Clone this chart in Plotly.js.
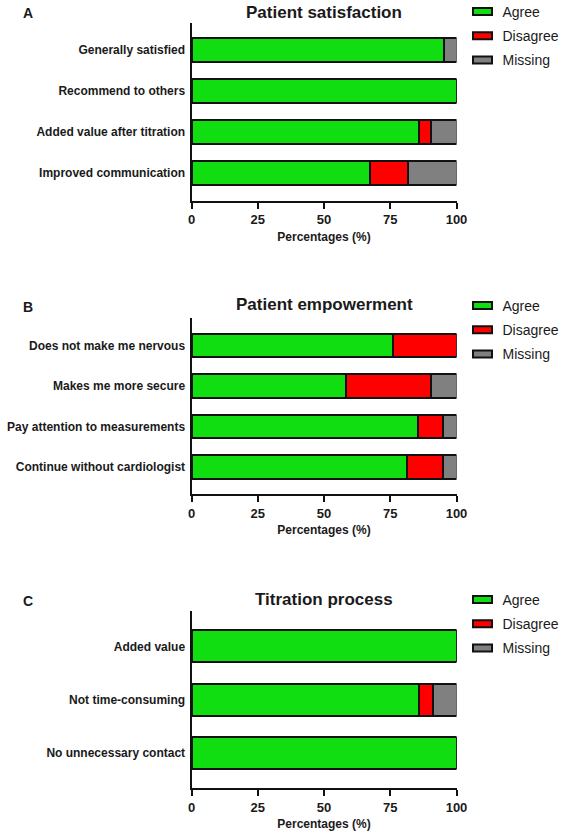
<!DOCTYPE html>
<html>
<head>
<meta charset="utf-8">
<script src="https://cdn.plot.ly/plotly-3.0.1.min.js"></script>
<style>html,body{margin:0;padding:0;background:#fff;}#chart{width:566px;height:837px;}</style>
</head>
<body>
<div id="chart"></div>
<script>
// ---------- data ----------
const seriesNames = ["Agree", "Disagree", "Missing"];

const catsA = ["Generally satisfied", "Recommend to others", "Added value after titration", "Improved communication"];
const agreeA    = [95.2, 100, 85.7, 67.5];
const disagreeA = [0, 0, 4.8, 14.3];
const missingA  = [4.8, 0, 9.5, 18.2];

const catsB = ["Does not make me nervous", "Makes me more secure", "Pay attention to measurements", "Continue without cardiologist"];
const agreeB    = [76.2, 58.3, 85.6, 81.3];
const disagreeB = [23.8, 32.2, 9.2, 13.5];
const missingB  = [0, 9.5, 5.2, 5.2];

const catsC = ["Added value", "Not time-consuming", "No unnecessary contact"];
const agreeC    = [100, 86.0, 100];
const disagreeC = [0, 5.1, 0];
const missingC  = [0, 8.9, 0];

const panelTitles = ["Patient satisfaction", "Patient empowerment", "Titration process"];
const panelLetters = ["A", "B", "C"];
const xTicks = [0, 25, 50, 75, 100];
const xTitle = "Percentages (%)";

// ---------- styling ----------
const colors = ["#10de10", "#ff0000", "#808080"];
const FONT = "Liberation Sans, Arial, sans-serif";
const TXT = "#1a1a1a";
const H = 837;
const py = px => (H - px) / H;

const panels = [
  {cats: catsA, vals: [agreeA, disagreeA, missingA], ax: "", leg: "legend", width: 0.58},
  {cats: catsB, vals: [agreeB, disagreeB, missingB], ax: "2", leg: "legend2", width: 0.58},
  {cats: catsC, vals: [agreeC, disagreeC, missingC], ax: "3", leg: "legend3", width: 0.6}
];

const traces = [];
panels.forEach((p, pi) => {
  seriesNames.forEach((s, si) => {
    traces.push({
      type: "bar",
      orientation: "h",
      name: s,
      x: p.vals[si],
      y: p.cats,
      xaxis: "x" + p.ax,
      yaxis: "y" + p.ax,
      legend: p.leg,
      legendgroup: "p" + pi + "s" + si,
      width: p.width,
      marker: {color: colors[si], line: {color: "#111", width: 2}},
      hoverinfo: "x+y+name"
    });
  });
});

const xDom = [191.5 / 566, 456.5 / 566];
// pixel tops/bottoms of the plot areas
const areas = [
  {top: 22.7, bottom: 200.7, range: [3.676, -0.666], titleY: 12, letterY: 12.5, legY: -4},
  {top: 318, bottom: 494, range: [3.667, -0.679], titleY: 305, letterY: 307, legY: 290},
  {top: 611, bottom: 788, range: [2.66, -0.666], titleY: 599, letterY: 600.5, legY: 584}
];

const layout = {
  width: 566, height: 837,
  margin: {l: 0, r: 0, t: 0, b: 0, autoexpand: false},
  paper_bgcolor: "#fff", plot_bgcolor: "#fff",
  barmode: "stack",
  font: {family: FONT, color: TXT},
  showlegend: true,
  annotations: [],
  bargap: 0
};

areas.forEach((a, i) => {
  const ax = i === 0 ? "" : String(i + 1);
  layout["xaxis" + ax] = {
    domain: xDom,
    anchor: "y" + ax,
    range: [0, 100],
    tickvals: xTicks,
    ticktext: xTicks.map(String),
    ticks: "outside", ticklen: 6, tickwidth: 2, tickcolor: "#111",
    showline: true, linewidth: 2, linecolor: "#111",
    showgrid: false, zeroline: false,
    tickfont: {family: FONT, size: 13, weight: "bold", color: TXT},
    title: {text: xTitle, font: {family: FONT, size: 12, weight: "bold", color: TXT}, standoff: 6},
    fixedrange: true
  };
  layout["yaxis" + ax] = {
    domain: [py(a.bottom), py(a.top)],
    anchor: "x" + ax,
    type: "category",
    categoryorder: "array",
    categoryarray: panels[i].cats,
    range: a.range,
    showline: true, linewidth: 2, linecolor: "#111",
    showgrid: false, zeroline: false,
    ticks: "",
    ticklabelstandoff: 2,
    tickfont: {family: FONT, size: 12, weight: "bold", color: TXT},
    fixedrange: true
  };
  const legKey = i === 0 ? "legend" : "legend" + (i + 1);
  layout[legKey] = {
    x: 462.5 / 566, xanchor: "left",
    y: py(a.legY), yanchor: "top",
    bgcolor: "rgba(0,0,0,0)", borderwidth: 0,
    font: {family: FONT, size: 14, color: TXT},
    traceorder: "grouped",
    tracegroupgap: 3
  };
  layout.annotations.push({
    text: "<b>" + panelTitles[i] + "</b>",
    xref: "x" + ax + " domain", x: 0.5, xanchor: "center",
    yref: "paper", y: py(a.titleY), yanchor: "middle",
    showarrow: false, font: {family: FONT, size: 17, color: TXT}
  });
  layout.annotations.push({
    text: "<b>" + panelLetters[i] + "</b>",
    xref: "paper", x: 28 / 566, xanchor: "center",
    yref: "paper", y: py(a.letterY), yanchor: "middle",
    showarrow: false, font: {family: FONT, size: 14, color: TXT}
  });
});

Plotly.newPlot("chart", traces, layout, {displayModeBar: false, staticPlot: true}).then(gd => {
  // flatten legend swatches to wide, short rectangles like the reference
  gd.querySelectorAll(".legendpoints path").forEach(p => {
    p.setAttribute("d", "M9.5,3.5H-9.5V-3.5H9.5Z");
  });
});
</script>
</body>
</html>
